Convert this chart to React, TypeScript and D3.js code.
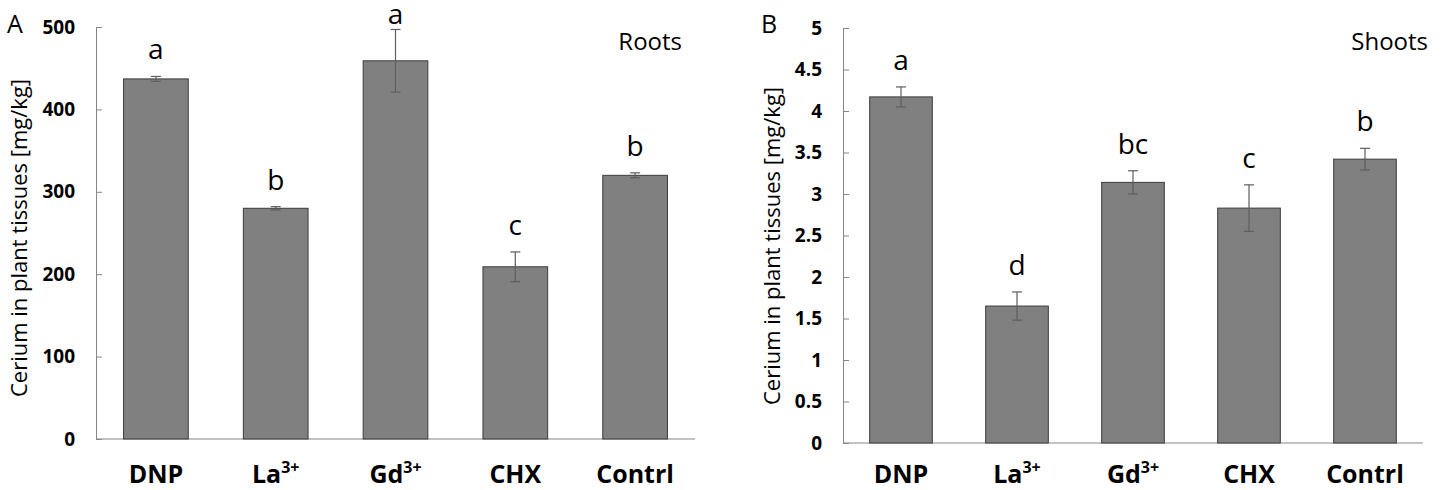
import React, { useEffect, useRef } from "react";
import * as d3 from "d3";

// treatments on the x axis (superscript kept apart)
const categories = ["DNP", "La", "Gd", "CHX", "Contrl"];
const superscripts = ["", "3+", "3+", "", ""];

// panel A - roots
const rootValues = [437, 280, 459, 209, 320];
const rootErrors = [3, 2, 38, 18, 3];
const rootLetters = ["a", "b", "a", "c", "b"];
const rootTicks = [0, 100, 200, 300, 400, 500];

// panel B - shoots
const shootValues = [4.17, 1.65, 3.14, 2.83, 3.42];
const shootErrors = [0.12, 0.17, 0.14, 0.28, 0.13];
const shootLetters = ["a", "d", "bc", "c", "b"];
const shootTicks = [0, 0.5, 1, 1.5, 2, 2.5, 3, 3.5, 4, 4.5, 5];

const FONT = "'Open Sans', sans-serif";

function drawPanel(svg, opts) {
  const { left, right, top, bottom, max, ticks, values, errors, letters, tag, title, titleX, tagX, titleY } = opts;

  const x = d3.scaleBand().domain(categories).range([left, right]).paddingInner(0.46).paddingOuter(0.23);
  const y = d3.scaleLinear().domain([0, max]).range([bottom, top]);

  const g = svg.append("g");

  // y axis, ticks pointing inward
  const axis = d3.axisLeft(y).tickValues(ticks).tickFormat(d => String(d)).tickSizeInner(-6).tickSizeOuter(0).tickPadding(21);
  const ax = g.append("g").attr("transform", `translate(${left},0)`).call(axis);
  ax.select(".domain").attr("stroke", "#868686");
  ax.selectAll(".tick line").attr("stroke", "#868686");
  ax.selectAll(".tick text")
    .attr("font-family", FONT).attr("font-size", 19).attr("font-weight", 700).attr("fill", "#000");

  // x axis baseline
  g.append("line").attr("x1", left).attr("x2", right).attr("y1", y(0)).attr("y2", y(0))
    .attr("stroke", "#868686").attr("stroke-width", 1.2);

  // bars
  g.selectAll("rect.bar").data(values).enter().append("rect")
    .attr("x", (d, i) => x(categories[i]))
    .attr("y", d => y(d))
    .attr("width", x.bandwidth())
    .attr("height", d => y(0) - y(d))
    .attr("fill", "#808080")
    .attr("stroke", "#3c3c3c")
    .attr("stroke-width", 1);

  // error bars
  values.forEach((v, i) => {
    const cx = x(categories[i]) + x.bandwidth() / 2;
    const y1 = y(v + errors[i]);
    const y2 = y(v - errors[i]);
    const eg = g.append("g").attr("stroke", "#5e5e5e").attr("stroke-width", 1.2);
    eg.append("line").attr("x1", cx).attr("x2", cx).attr("y1", y1).attr("y2", y2);
    eg.append("line").attr("x1", cx - 5).attr("x2", cx + 5).attr("y1", y1).attr("y2", y1);
    eg.append("line").attr("x1", cx - 5).attr("x2", cx + 5).attr("y1", y2).attr("y2", y2);

    // significance letters
    g.append("text")
      .attr("x", cx)
      .attr("y", Math.max(y1 - 17, 24))
      .attr("text-anchor", "middle")
      .attr("font-family", FONT).attr("font-size", 28).attr("fill", "#000")
      .text(letters[i]);

    // category labels
    const t = g.append("text")
      .attr("x", cx)
      .attr("y", 483)
      .attr("text-anchor", "middle")
      .attr("font-family", FONT).attr("font-size", 25).attr("font-weight", 700).attr("fill", "#000");
    t.append("tspan").text(categories[i]);
    if (superscripts[i]) {
      t.append("tspan").attr("dy", -10).attr("font-size", 16).text(superscripts[i]);
    }
  });

  // y axis title
  g.append("text")
    .attr("transform", `translate(${titleX},${titleY}) rotate(-90)`)
    .attr("text-anchor", "middle")
    .attr("font-family", FONT).attr("font-size", 22).attr("fill", "#000")
    .text("Cerium in plant tissues [mg/kg]");

  // panel tag
  g.append("text").attr("x", tagX).attr("y", 33)
    .attr("font-family", FONT).attr("font-size", 25).attr("fill", "#000").text(tag);

  // tissue title
  g.append("text").attr("x", opts.nameX).attr("y", 50).attr("text-anchor", "end")
    .attr("font-family", FONT).attr("font-size", 24).attr("fill", "#000").text(title);
}

export default function App() {
  const ref = useRef(null);

  useEffect(() => {
    const svg = d3.select(ref.current);
    svg.selectAll("*").remove();

    drawPanel(svg, {
      left: 96, right: 695, top: 27, bottom: 439, max: 500, ticks: rootTicks,
      values: rootValues, errors: rootErrors, letters: rootLetters,
      tag: "A", tagX: 7, title: "Roots", nameX: 682, titleX: 27, titleY: 238
    });
    drawPanel(svg, {
      left: 843, right: 1423, top: 28, bottom: 443, max: 5, ticks: shootTicks,
      values: shootValues, errors: shootErrors, letters: shootLetters,
      tag: "B", tagX: 761, title: "Shoots", nameX: 1428, titleX: 780, titleY: 246
    });
  }, []);

  return (
    <>
      <style>{`body{margin:0}`}</style>
      <svg ref={ref} width={1445} height={490} style={{ display: "block", background: "#fff" }} />
    </>
  );
}
